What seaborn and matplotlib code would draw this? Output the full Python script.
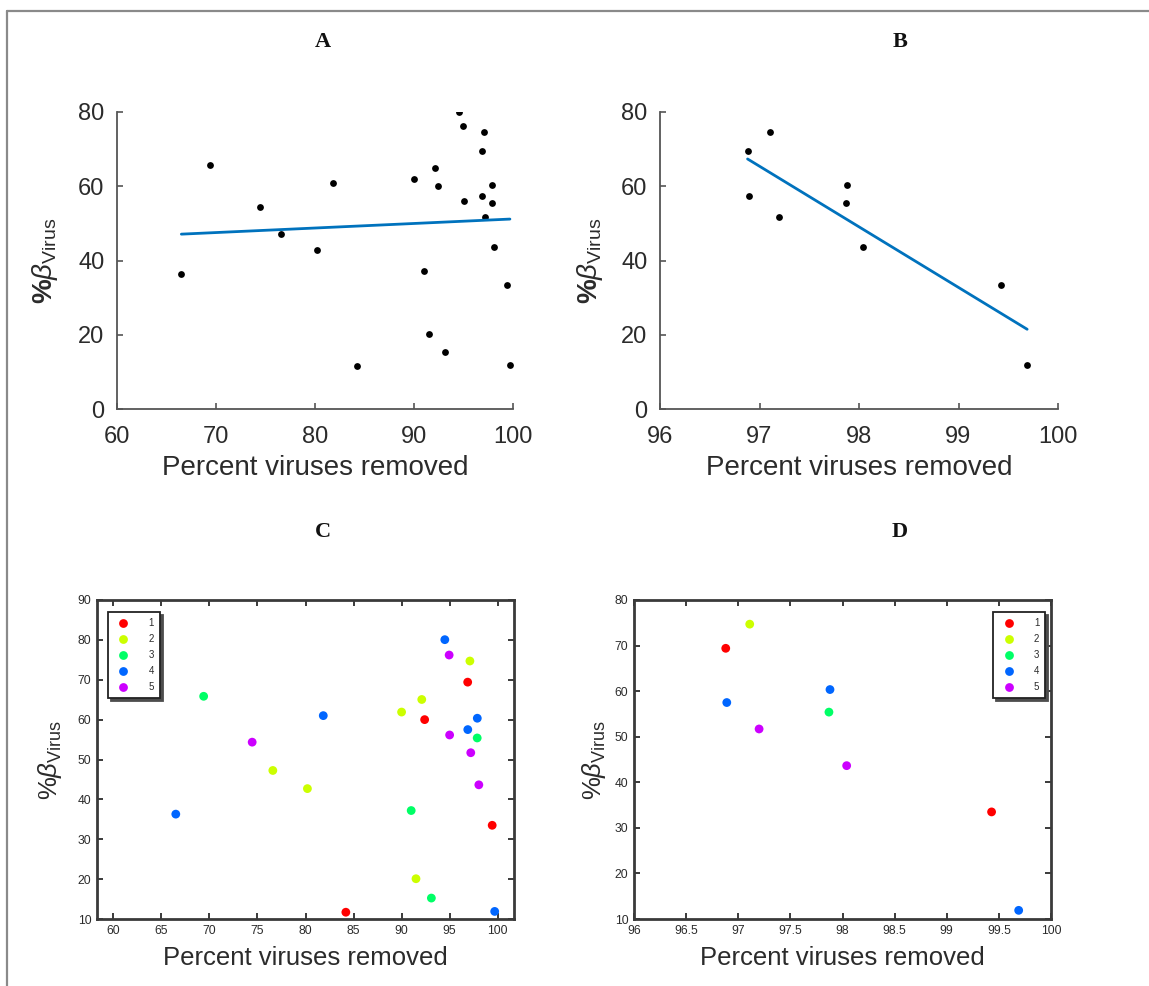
import matplotlib
matplotlib.use("Agg")
import matplotlib.pyplot as plt
from matplotlib.lines import Line2D
from matplotlib.ticker import FuncFormatter
import numpy as np
import pandas as pd
import seaborn as sns

# ---- data: percent of viruses removed vs. %beta_virus, by subject group ----
group = ["1", "1", "1", "1",
         "2", "2", "2", "2", "2", "2",
         "3", "3", "3", "3",
         "4", "4", "4", "4", "4", "4",
         "5", "5", "5", "5", "5"]
pct_removed = [84.2, 92.4, 96.88, 99.43,
               76.6, 80.2, 90.0, 91.5, 92.1, 97.11,
               69.4, 91.0, 93.1, 97.87,
               66.5, 81.85, 94.5, 96.89, 97.88, 99.69,
               74.45, 94.95, 95.0, 97.2, 98.04]
beta_virus = [11.7, 60.0, 69.4, 33.5,
              47.25, 42.7, 61.9, 20.1, 65.05, 74.7,
              65.85, 37.2, 15.25, 55.4,
              36.3, 61.0, 80.05, 57.5, 60.35, 11.9,
              54.35, 76.2, 56.15, 51.7, 43.65]
group_order = ["1", "2", "3", "4", "5"]
high_removal_cutoff = 96.5

df = pd.DataFrame({"group": group, "removed": pct_removed, "beta": beta_virus})
df_high = df[df["removed"] > high_removal_cutoff]

# ---- style ----
sns.set_theme(style="white")
plt.rcParams["font.family"] = ["Liberation Sans", "DejaVu Sans"]
plt.rcParams["mathtext.fontset"] = "custom"
plt.rcParams["mathtext.rm"] = "Liberation Sans"
plt.rcParams["mathtext.it"] = "Liberation Sans:italic"
plt.rcParams["mathtext.bf"] = "Liberation Sans:bold"

W, H = 1149, 986
fig = plt.figure(figsize=(W / 100, H / 100), dpi=100)
fig.patch.set_facecolor("white")

def rect(left, top, right, bottom):
    return [left / W, 1 - bottom / H, (right - left) / W, (bottom - top) / H]

text_col = "#2b2b2b"
axis_col = "#555555"
fit_col = "#0072BD"
palette = ["#FF0000", "#CCFF00", "#00FF66", "#0066FF", "#CC00FF"]

# frame around the whole figure
fig.add_artist(Line2D([7 / W, 7 / W], [0, 1 - 11 / H], transform=fig.transFigure,
                      color="#8a8a8a", lw=1.6))
fig.add_artist(Line2D([7 / W, 1], [1 - 11 / H, 1 - 11 / H], transform=fig.transFigure,
                      color="#8a8a8a", lw=1.6))

label_top = r"$\mathbf{\%}\beta_{\mathrm{Virus}}$"
label_bot = r"%$\beta_{\mathrm{Virus}}$"
xlab = "Percent viruses removed"


def style_top(ax, xlim, xticks, ylabel_x):
    ax.set_xlim(*xlim)
    ax.set_ylim(0, 80)
    ax.set_xticks(xticks)
    ax.set_yticks([0, 20, 40, 60, 80])
    for s in ["top", "right"]:
        ax.spines[s].set_visible(False)
    for s in ["left", "bottom"]:
        ax.spines[s].set_color(axis_col)
        ax.spines[s].set_linewidth(1.3)
    ax.tick_params(direction="in", length=4, width=1.2, color=axis_col,
                   bottom=True, left=True, top=False, right=False,
                   labelsize=17, labelcolor=text_col)
    ax.tick_params(axis="x", pad=12)
    ax.tick_params(axis="y", pad=9)
    ax.set_xlabel(xlab, fontsize=20, color=text_col)
    ax.set_ylabel(label_top, fontsize=20, color=text_col)
    ax.xaxis.set_label_coords(0.5, -0.199)
    ax.xaxis.label.set_va("center")
    ax.yaxis.set_label_coords(ylabel_x, 0.5)
    ax.yaxis.label.set_va("center")
    ax.grid(False)


def style_bottom(ax, xlim, xticks, ylim, yticks, ylabel_x, legend_anchor, legend_loc):
    ax.set_xlim(*xlim)
    ax.set_ylim(*ylim)
    ax.set_xticks(xticks)
    ax.set_yticks(yticks)
    ax.xaxis.set_major_formatter(FuncFormatter(lambda v, p: f"{v:g}"))
    for s in ax.spines.values():
        s.set_visible(True)
        s.set_color("#3a3a3a")
        s.set_linewidth(2.0)
    ax.tick_params(direction="in", length=4, width=1.4, color="#3a3a3a",
                   bottom=True, left=True, top=True, right=True,
                   labelsize=8.7, labelcolor=text_col, pad=4)
    ax.set_xlabel(xlab, fontsize=18.5, color=text_col)
    ax.set_ylabel(label_bot, fontsize=18.5, color=text_col)
    ax.xaxis.set_label_coords(0.5, -0.122)
    ax.xaxis.label.set_va("center")
    ax.yaxis.set_label_coords(ylabel_x, 0.5)
    ax.yaxis.label.set_va("center")
    ax.grid(False)
    sns.move_legend(ax, legend_loc, bbox_to_anchor=legend_anchor, title=None,
                    frameon=True, fancybox=False, fontsize=7, borderpad=0.6,
                    handlelength=2.0, handletextpad=1.6, labelspacing=0.62,
                    borderaxespad=0, shadow={"color": "0.3", "alpha": 1})
    leg = ax.get_legend()
    leg.get_frame().set_edgecolor("#222222")
    leg.get_frame().set_linewidth(1.3)
    for t in leg.get_texts():
        t.set_color(text_col)


# ---- A: all subjects with linear fit ----
axA = fig.add_axes(rect(117, 112, 513, 409))
sns.scatterplot(data=df, x="removed", y="beta", color="black", s=24,
                linewidth=0, ax=axA)
sns.regplot(data=df, x="removed", y="beta", scatter=False, ci=None,
            truncate=True, line_kws=dict(color=fit_col, lw=2), ax=axA)
style_top(axA, (60, 100), [60, 70, 80, 90, 100], -0.182)

# ---- B: high removal subset with linear fit ----
axB = fig.add_axes(rect(660, 112, 1058, 409))
sns.scatterplot(data=df_high, x="removed", y="beta", color="black", s=24,
                linewidth=0, ax=axB)
sns.regplot(data=df_high, x="removed", y="beta", scatter=False, ci=None,
            truncate=True, line_kws=dict(color=fit_col, lw=2), ax=axB)
style_top(axB, (96, 100), [96, 97, 98, 99, 100], -0.177)

# ---- C: all subjects coloured by group ----
axC = fig.add_axes(rect(97, 600, 514, 919))
sns.scatterplot(data=df, x="removed", y="beta", hue="group", hue_order=group_order,
                palette=palette, s=40, linewidth=0, ax=axC)
style_bottom(axC, (58.3, 101.7), np.arange(60, 101, 5), (10, 90),
             np.arange(10, 91, 10), -0.113, (0.026, 0.962), "upper left")

# ---- D: high removal subset coloured by group ----
axD = fig.add_axes(rect(634, 600, 1051, 919))
sns.scatterplot(data=df_high, x="removed", y="beta", hue="group",
                hue_order=group_order, palette=palette, s=40, linewidth=0, ax=axD)
style_bottom(axD, (96, 100), np.arange(96, 100.01, 0.5), (10, 80),
             np.arange(10, 81, 10), -0.096, (0.986, 0.962), "upper right")

# panel letters
for letter, x, y in [("A", 323, 42), ("B", 900, 42), ("C", 323, 532), ("D", 900, 532)]:
    fig.text(x / W, 1 - y / H, letter, ha="center", va="center", fontsize=16,
             fontweight="bold", family=["Liberation Serif", "DejaVu Serif"],
             color="#111111")

fig.savefig("out.png", dpi=100, facecolor="white")
